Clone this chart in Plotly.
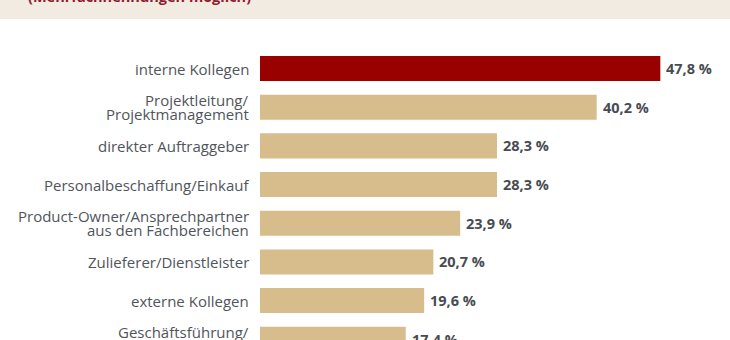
import plotly.graph_objects as go

# ---- data ----
categories = [
    "interne Kollegen",
    "Projektleitung/<br>Projektmanagement",
    "direkter Auftraggeber",
    "Personalbeschaffung/Einkauf",
    "Product-Owner/Ansprechpartner<br>aus den Fachbereichen",
    "Zulieferer/Dienstleister",
    "externe Kollegen",
    "Geschäftsführung/<br>",
]
values = [47.8, 40.2, 28.3, 28.3, 23.9, 20.7, 19.6, 17.4]
subtitle = "(Mehrfachnennungen möglich)"
highlight_index = 0

# ---- styles ----
RED = "#990000"
TAN = "#d8bd8c"
HEADER_BG = "#f2ebe1"
HEADER_TXT = "#8e1b30"
LABEL_COL = "#50555b"
VALUE_COL = "#474c52"
FONT = "Open Sans"

W, H = 730, 340
L, T, R, B = 260, 20, 0, 0
PW, PH = W - L - R, H - T - B

colors = [RED if i == highlight_index else TAN for i in range(len(categories))]

fig = go.Figure(
    go.Bar(
        x=values,
        y=categories,
        orientation="h",
        marker=dict(color=colors, line=dict(width=0)),
        width=0.647,
        hoverinfo="skip",
    )
)

annotations = []
# category labels, one annotation per line for tight line spacing
line_h = 14.5
for cat in categories:
    lines = cat.split("<br>")
    n = len(lines)
    for i, ln in enumerate(lines):
        if not ln:
            continue
        annotations.append(
            dict(
                x=0, xref="paper", y=cat, yref="y",
                text=ln, showarrow=False,
                xanchor="right", yanchor="middle",
                xshift=-9, yshift=((n - 1) / 2 - i) * line_h,
                font=dict(family=FONT, size=15, color=LABEL_COL),
            )
        )

# value labels
for cat, v in zip(categories, values):
    annotations.append(
        dict(
            x=v, xref="x", y=cat, yref="y",
            text=f"{v:.1f}".replace(".", ",") + " %",
            showarrow=False, xanchor="left", yanchor="middle", xshift=4,
            font=dict(family=FONT, size=14.5, color=VALUE_COL, weight="bold"),
        )
    )

# header subtitle (mostly cut off at top)
annotations.append(
    dict(
        x=(26 - L) / PW, xref="paper", y=(H - 8) / PH, yref="paper",
        text=subtitle, showarrow=False, xanchor="left", yanchor="bottom",
        font=dict(family=FONT, size=14.5, color=HEADER_TXT, weight="bold"),
    )
)

shapes = [
    dict(
        type="rect", xref="paper", yref="paper",
        x0=-L / PW, x1=1.0, y0=(H - 19) / PH, y1=H / PH,
        fillcolor=HEADER_BG, line=dict(width=0), layer="below",
    )
]

px_per_unit = 8.375
cat_pitch = 38.67
bottom_val = 7.02
top_val = bottom_val - PH / cat_pitch

fig.update_layout(
    width=W, height=H,
    margin=dict(l=L, r=R, t=T, b=B, pad=0),
    paper_bgcolor="white", plot_bgcolor="white",
    showlegend=False,
    xaxis=dict(visible=False, range=[0, PW / px_per_unit]),
    yaxis=dict(
        type="category", showticklabels=False, showgrid=False,
        zeroline=False, showline=False, ticks="",
        range=[bottom_val, top_val],
    ),
    annotations=annotations,
    shapes=shapes,
    font=dict(family=FONT),
)

fig.write_html("out.html")
